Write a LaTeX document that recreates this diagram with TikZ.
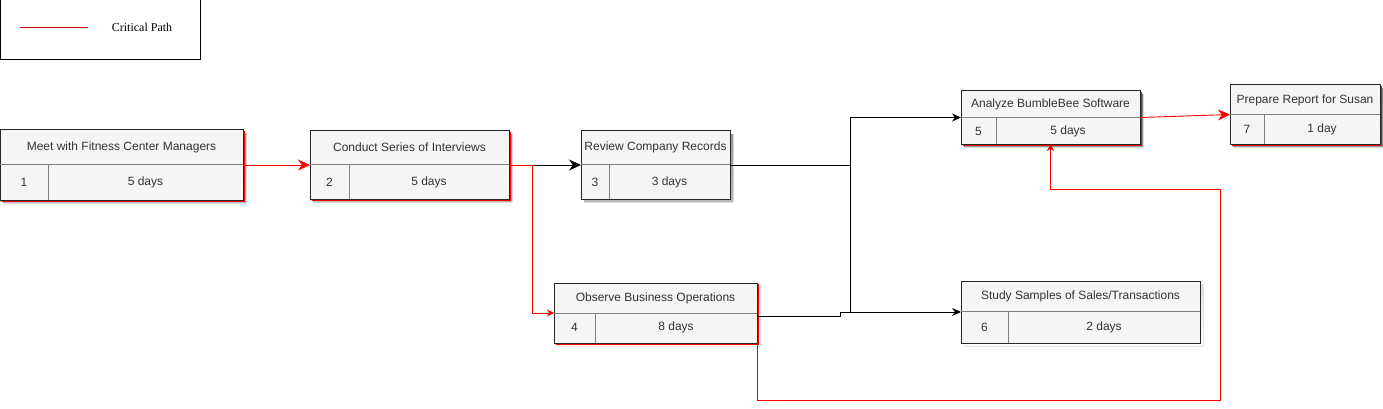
\documentclass[tikz,border=0pt]{standalone}
\usepackage{fontspec}
\setmainfont{Liberation Sans}
\newfontfamily\keyfont{Liberation Serif}
\usetikzlibrary{arrows.meta}
\definecolor{boxfill}{HTML}{F5F5F5}
\definecolor{boxline}{HTML}{262626}
\definecolor{divline}{HTML}{808080}
\definecolor{inktext}{HTML}{333333}
\definecolor{shade}{HTML}{C8C8C8}
\definecolor{critred}{HTML}{FF0000}

\begin{document}
\begin{tikzpicture}[x=1pt, y=-1pt,
            task/.style={draw=boxline, fill=boxfill, line width=1pt, inner sep=0pt, outer sep=0pt},
            txt/.style={inner sep=0pt, text=inktext, font=\fontsize{12}{14}\selectfont},
            divide/.style={draw=divline, line width=.8pt},
            plain/.style={draw=black, line width=.9pt, -{Stealth[length=9pt, width=8pt]}},
            plainbig/.style={draw=black, line width=.9pt, -{Stealth[length=12pt, width=11pt]}},
            crit/.style={draw=critred, line width=.9pt, -{Stealth[length=12pt, width=11pt]}},
            critsmall/.style={draw=critred, line width=.9pt, -{Stealth[length=7pt, width=7pt]}},
            redrim/.style={draw=critred, line width=1.6pt}]
            \useasboundingbox (0,0) rectangle (1383,409);
            % legend
            \node[draw=black, line width=1pt, minimum width=200pt, minimum height=60pt, inner sep=0pt] (legend) at (100,30) {};
            \coordinate (keyA) at (20,27);
            \coordinate (keyB) at (88,27);
            \draw[critred!80!black, line width=.6pt] (keyA) -- (keyB);
            \node[inner sep=0pt, font=\keyfont\fontsize{12}{14}\selectfont] (keytext) at (142,27) {Critical Path};
            % shadows
            \fill[shade] (3,133) rectangle (246,203)
                         (313,134) rectangle (512,202)
                         (584,134) rectangle (733,202)
                         (557,286) rectangle (760,346)
                         (964,94) rectangle (1143,147)
                         (964,284) rectangle (1203,346)
                         (1233,88) rectangle (1383,147);
            % red rims of the critical tasks
            \draw[redrim] (1.5,201.5) -| (244.5,131)
                          (311.5,200.5) -| (510.5,132)
                          (555.5,344.5) -| (758.5,284)
                          (962.5,145.5) -| (1141.5,92)
                          (1231.5,145.5) -| (1381.5,86);
            % task 1
            \node[task, minimum width=243pt, minimum height=70pt] (t1) at (121.5,165) {};
            \draw[divide] (0,164) -- (243,164) (48,164) -- (48,200);
            \node[txt] (t1name) at (121.5,147) {Meet with Fitness Center Managers};
            \node[txt] (t1num) at (24,182) {1};
            \node[txt] (t1dur) at (145.5,182) {5 days};
            % task 2
            \node[task, minimum width=199pt, minimum height=68pt] (t2) at (409.5,165) {};
            \draw[divide] (310,164) -- (509,164) (349,164) -- (349,199);
            \node[txt] (t2name) at (409.5,147) {Conduct Series of Interviews};
            \node[txt] (t2num) at (329.5,182) {2};
            \node[txt] (t2dur) at (429,182) {5 days};
            % task 3
            \node[task, minimum width=149pt, minimum height=68pt] (t3) at (655.5,165) {};
            \draw[divide] (581,164) -- (730,164) (609,164) -- (609,199);
            \node[txt] (t3name) at (655.5,147) {Review Company Records};
            \node[txt] (t3num) at (595,182) {3};
            \node[txt] (t3dur) at (669.5,182) {3 days};
            % task 4
            \node[task, minimum width=203pt, minimum height=60pt] (t4) at (655.5,313) {};
            \draw[divide] (554,313) -- (757,313) (595,313) -- (595,343);
            \node[txt] (t4name) at (655.5,298) {Observe Business Operations};
            \node[txt] (t4num) at (574.5,327) {4};
            \node[txt] (t4dur) at (676,327) {8 days};
            % task 5
            \node[task, minimum width=179pt, minimum height=53pt] (t5) at (1050.5,117.5) {};
            \draw[divide] (961,117) -- (1140,117) (996,117) -- (996,144);
            \node[txt] (t5name) at (1050.5,104) {Analyze BumbleBee Software};
            \node[txt] (t5num) at (978.5,131) {5};
            \node[txt] (t5dur) at (1068,131) {5 days};
            % task 6
            \node[task, minimum width=239pt, minimum height=62pt] (t6) at (1080.5,312) {};
            \draw[divide] (961,311) -- (1200,311) (1008,311) -- (1008,343);
            \node[txt] (t6name) at (1080.5,296) {Study Samples of Sales/Transactions};
            \node[txt] (t6num) at (984.5,327) {6};
            \node[txt] (t6dur) at (1104,327) {2 days};
            % task 7
            \node[task, minimum width=150pt, minimum height=59pt] (t7) at (1305,114.5) {};
            \draw[divide] (1230,114) -- (1380,114) (1264,114) -- (1264,144);
            \node[txt] (t7name) at (1305,100) {Prepare Report for Susan};
            \node[txt] (t7num) at (1247,129) {7};
            \node[txt] (t7dur) at (1322,129) {1 day};
            % connectors
            \coordinate (loopA) at (1220,400);
            \coordinate (loopB) at (1220,189);
            \draw[plainbig] (t2.east) -- (t3.west);
            \draw[plain] (t3.east) -- ++(120,0) |- (t5.west);
            \draw[plain] (t3.east) -- ++(120,0) |- (t6.west);
            \draw[draw=black, line width=.9pt] ([yshift=-3pt]t4.east) -- ++(83,0) |- ([xshift=-10pt]t6.west);
            \draw[crit] (t1.east) -- (t2.west);
            \draw[critsmall] (t2.east) -- ++(23,0) |- (t4.west);
            \draw[critsmall] (t4.south east) |- (loopA) -- (loopB) -| (t5.south);
            \draw[crit] (t5.east) -- (t7.west);
        \end{tikzpicture}
\end{document}
